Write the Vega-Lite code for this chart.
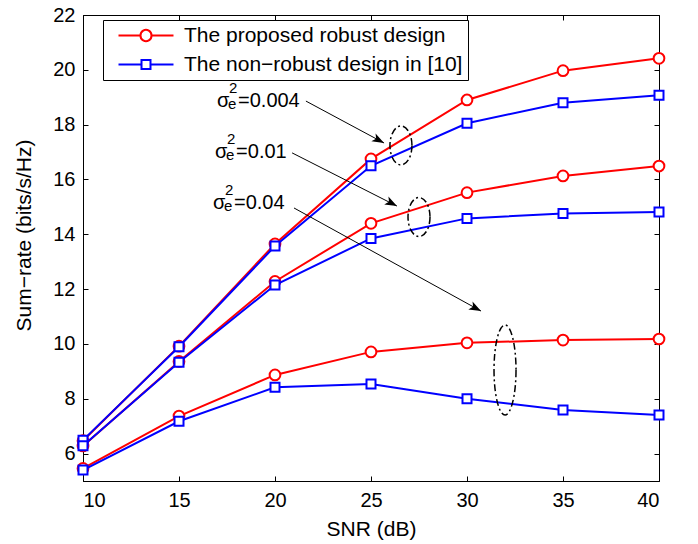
{
  "$schema": "https://vega.github.io/schema/vega-lite/v6.json",
  "width": 576,
  "height": 466,
  "autosize": {"type": "none"},
  "padding": {"left": 83, "top": 15, "right": 39, "bottom": 63},
  "background": "white",
  "config": {
    "font": "Liberation Sans",
    "view": {"stroke": "black", "strokeWidth": 1},
    "axis": {
      "grid": false,
      "domainColor": "black",
      "domainWidth": 1,
      "tickColor": "black",
      "tickWidth": 1,
      "tickSize": -5,
      "labelColor": "black",
      "labelFont": "Liberation Sans",
      "labelFontSize": 20,
      "titleColor": "black",
      "titleFont": "Liberation Sans",
      "titleFontSize": 21,
      "titleFontWeight": "normal"
    }
  },
  "datasets": {
    "curves": [
      {"snr": 10, "rate": 6.47, "design": "robust", "sigma": "0.004"},
      {"snr": 15, "rate": 9.92, "design": "robust", "sigma": "0.004"},
      {"snr": 20, "rate": 13.65, "design": "robust", "sigma": "0.004"},
      {"snr": 25, "rate": 16.75, "design": "robust", "sigma": "0.004"},
      {"snr": 30, "rate": 18.9, "design": "robust", "sigma": "0.004"},
      {"snr": 35, "rate": 19.97, "design": "robust", "sigma": "0.004"},
      {"snr": 40, "rate": 20.42, "design": "robust", "sigma": "0.004"},
      {"snr": 10, "rate": 6.49, "design": "nonrobust", "sigma": "0.004"},
      {"snr": 15, "rate": 9.9, "design": "nonrobust", "sigma": "0.004"},
      {"snr": 20, "rate": 13.57, "design": "nonrobust", "sigma": "0.004"},
      {"snr": 25, "rate": 16.5, "design": "nonrobust", "sigma": "0.004"},
      {"snr": 30, "rate": 18.05, "design": "nonrobust", "sigma": "0.004"},
      {"snr": 35, "rate": 18.8, "design": "nonrobust", "sigma": "0.004"},
      {"snr": 40, "rate": 19.07, "design": "nonrobust", "sigma": "0.004"},
      {"snr": 10, "rate": 6.28, "design": "robust", "sigma": "0.01"},
      {"snr": 15, "rate": 9.36, "design": "robust", "sigma": "0.01"},
      {"snr": 20, "rate": 12.28, "design": "robust", "sigma": "0.01"},
      {"snr": 25, "rate": 14.4, "design": "robust", "sigma": "0.01"},
      {"snr": 30, "rate": 15.52, "design": "robust", "sigma": "0.01"},
      {"snr": 35, "rate": 16.13, "design": "robust", "sigma": "0.01"},
      {"snr": 40, "rate": 16.49, "design": "robust", "sigma": "0.01"},
      {"snr": 10, "rate": 6.29, "design": "nonrobust", "sigma": "0.01"},
      {"snr": 15, "rate": 9.33, "design": "nonrobust", "sigma": "0.01"},
      {"snr": 20, "rate": 12.15, "design": "nonrobust", "sigma": "0.01"},
      {"snr": 25, "rate": 13.85, "design": "nonrobust", "sigma": "0.01"},
      {"snr": 30, "rate": 14.58, "design": "nonrobust", "sigma": "0.01"},
      {"snr": 35, "rate": 14.76, "design": "nonrobust", "sigma": "0.01"},
      {"snr": 40, "rate": 14.81, "design": "nonrobust", "sigma": "0.01"},
      {"snr": 10, "rate": 5.46, "design": "robust", "sigma": "0.04"},
      {"snr": 15, "rate": 7.37, "design": "robust", "sigma": "0.04"},
      {"snr": 20, "rate": 8.87, "design": "robust", "sigma": "0.04"},
      {"snr": 25, "rate": 9.71, "design": "robust", "sigma": "0.04"},
      {"snr": 30, "rate": 10.04, "design": "robust", "sigma": "0.04"},
      {"snr": 35, "rate": 10.14, "design": "robust", "sigma": "0.04"},
      {"snr": 40, "rate": 10.18, "design": "robust", "sigma": "0.04"},
      {"snr": 10, "rate": 5.4, "design": "nonrobust", "sigma": "0.04"},
      {"snr": 15, "rate": 7.18, "design": "nonrobust", "sigma": "0.04"},
      {"snr": 20, "rate": 8.42, "design": "nonrobust", "sigma": "0.04"},
      {"snr": 25, "rate": 8.54, "design": "nonrobust", "sigma": "0.04"},
      {"snr": 30, "rate": 8.0, "design": "nonrobust", "sigma": "0.04"},
      {"snr": 35, "rate": 7.59, "design": "nonrobust", "sigma": "0.04"},
      {"snr": 40, "rate": 7.41, "design": "nonrobust", "sigma": "0.04"}
    ],
    "labels": [
      {"snr": 16.98, "rate": 18.66, "tail": "=0.004"},
      {"snr": 16.88, "rate": 16.78, "tail": "=0.01"},
      {"snr": 16.77, "rate": 14.92, "tail": "=0.04"}
    ],
    "arrows": [
      {"snr": 21.61, "rate": 18.86, "snr2": 25.68, "rate2": 17.33},
      {"snr": 20.89, "rate": 16.97, "snr2": 26.35, "rate2": 15.03},
      {"snr": 20.99, "rate": 14.96, "snr2": 30.73, "rate2": 11.2}
    ],
    "ellipses": [
      {"snr": 26.56, "rate": 17.24, "group": "small"},
      {"snr": 27.5, "rate": 14.63, "group": "small"},
      {"snr": 31.98, "rate": 9.05, "group": "tall"}
    ]
  },
  "encoding": {
    "x": {"field": "snr", "type": "quantitative", "scale": {"domain": [10, 40], "nice": false, "zero": false}, "axis": null},
    "y": {"field": "rate", "type": "quantitative", "scale": {"domain": [5, 22], "nice": false, "zero": false}, "axis": null}
  },
  "layer": [
    {
      "data": {"name": "curves"},
      "transform": [{"filter": "false"}],
      "mark": {"type": "point", "opacity": 0},
      "encoding": {
        "x": {"field": "snr", "type": "quantitative", "scale": {"domain": [10, 40], "nice": false, "zero": false},
              "axis": {"orient": "top", "labels": false, "domain": false, "title": null, "values": [10, 15, 20, 25, 30, 35, 40]}},
        "y": {"field": "rate", "type": "quantitative", "scale": {"domain": [5, 22], "nice": false, "zero": false},
              "axis": {"orient": "right", "labels": false, "domain": false, "title": null, "values": [6, 8, 10, 12, 14, 16, 18, 20, 22]}}
      }
    },
    {
      "data": {"name": "curves"},
      "transform": [{"filter": "datum.design == 'robust'"}],
      "mark": {"type": "line", "color": "#ff0000", "strokeWidth": 2},
      "encoding": {
        "detail": {"field": "sigma"},
        "x": {"field": "snr", "type": "quantitative", "scale": {"domain": [10, 40], "nice": false, "zero": false},
              "axis": {"orient": "bottom", "title": "SNR (dB)", "values": [10, 15, 20, 25, 30, 35, 40], "labelPadding": 14, "titleY": 54, "titleBaseline": "alphabetic"}},
        "y": {"field": "rate", "type": "quantitative", "scale": {"domain": [5, 22], "nice": false, "zero": false},
              "axis": {"orient": "left", "title": "Sum−rate (bits/s/Hz)", "values": [6, 8, 10, 12, 14, 16, 18, 20, 22], "labelPadding": 13, "titleX": -59, "titleY": 220, "titleAngle": -90, "titleBaseline": "middle", "titleAlign": "center"}}
      }
    },
    {
      "data": {"name": "curves"},
      "transform": [{"filter": "datum.design == 'robust'"}],
      "mark": {"type": "point", "shape": "circle", "fill": "white", "stroke": "#ff0000", "strokeWidth": 2, "size": 115, "opacity": 1}
    },
    {
      "data": {"name": "curves"},
      "transform": [{"filter": "datum.design == 'nonrobust'"}],
      "mark": {"type": "line", "color": "#0000ff", "strokeWidth": 2},
      "encoding": {"detail": {"field": "sigma"}}
    },
    {
      "data": {"name": "curves"},
      "transform": [{"filter": "datum.design == 'nonrobust'"}],
      "mark": {"type": "point", "shape": "square", "fill": "white", "stroke": "#0000ff", "strokeWidth": 2, "size": 81, "opacity": 1}
    },
    {
      "data": {"name": "arrows"},
      "mark": {"type": "rule", "color": "black", "strokeWidth": 1},
      "encoding": {
        "x2": {"field": "snr2"},
        "y2": {"field": "rate2"}
      }
    },
    {
      "data": {"name": "arrows"},
      "mark": {"type": "point", "shape": "M0,0L-2,-0.75L-1.5,0L-2,0.75Z", "filled": true, "color": "black", "size": 144, "angle": 28, "opacity": 1},
      "encoding": {
        "x": {"field": "snr2", "type": "quantitative", "scale": {"domain": [10, 40], "nice": false, "zero": false}, "axis": null},
        "y": {"field": "rate2", "type": "quantitative", "scale": {"domain": [5, 22], "nice": false, "zero": false}, "axis": null}
      }
    },
    {
      "data": {"name": "ellipses"},
      "transform": [{"filter": "datum.group == 'small'"}],
      "mark": {"type": "point", "shape": "M1.1,0A1.1,1.95,0,1,1,-1.1,0A1.1,1.95,0,1,1,1.1,0Z", "filled": false, "stroke": "black", "strokeWidth": 1.5, "strokeDash": [7, 3, 2, 3], "size": 400, "opacity": 1}
    },
    {
      "data": {"name": "ellipses"},
      "transform": [{"filter": "datum.group == 'tall'"}],
      "mark": {"type": "point", "shape": "M1.1,0A1.1,4.5,0,1,1,-1.1,0A1.1,4.5,0,1,1,1.1,0Z", "filled": false, "stroke": "black", "strokeWidth": 1.5, "strokeDash": [7, 3, 2, 3], "size": 400, "opacity": 1}
    },
    {
      "data": {"name": "labels"},
      "mark": {"type": "text", "text": "σ", "font": "Liberation Sans", "fontSize": 20, "align": "left", "baseline": "alphabetic", "color": "black"}
    },
    {
      "data": {"name": "labels"},
      "mark": {"type": "text", "text": "2", "font": "Liberation Sans", "fontSize": 15, "align": "left", "baseline": "alphabetic", "color": "black", "dx": 12, "dy": -14}
    },
    {
      "data": {"name": "labels"},
      "mark": {"type": "text", "text": "e", "font": "Liberation Sans", "fontSize": 15, "align": "left", "baseline": "alphabetic", "color": "black", "dx": 11, "dy": 2}
    },
    {
      "data": {"name": "labels"},
      "mark": {"type": "text", "font": "Liberation Sans", "fontSize": 20, "align": "left", "baseline": "alphabetic", "color": "black", "dx": 21},
      "encoding": {"text": {"field": "tail"}}
    },
    {
      "data": {"name": "curves"},
      "transform": [{"filter": "false"}],
      "mark": {"type": "point", "filled": false, "strokeWidth": 2, "opacity": 1},
      "encoding": {
        "color": {"field": "design", "type": "nominal",
                  "scale": {"domain": ["robust", "nonrobust"], "range": ["#ff0000", "#0000ff"]},
                  "legend": {"orient": "none", "legendX": 20, "legendY": 5, "title": null, "padding": 5, "strokeColor": "black", "fillColor": "white",
                             "labelFont": "Liberation Sans", "labelFontSize": 21, "labelColor": "black", "labelOffset": 55, "labelLimit": 500, "symbolSize": 196, "symbolStrokeWidth": 2, "rowPadding": 7,
                             "labelExpr": "datum.value == 'robust' ? 'The proposed robust design' : 'The non−robust design in [10]'"}},
        "shape": {"field": "design", "type": "nominal",
                  "scale": {"domain": ["robust", "nonrobust"], "range": ["M0,0L3.143,0M4.714,0L7.857,0M4.714,0A0.786,0.786,0,1,1,3.143,0A0.786,0.786,0,1,1,4.714,0Z", "M0,0L3.286,0M4.571,0L7.857,0M3.286,-0.643L4.571,-0.643L4.571,0.643L3.286,0.643Z"]},
                  "legend": {"orient": "none", "legendX": 20, "legendY": 5, "title": null, "padding": 5, "strokeColor": "black", "fillColor": "white",
                             "labelFont": "Liberation Sans", "labelFontSize": 21, "labelColor": "black", "labelOffset": 55, "labelLimit": 500, "symbolSize": 196, "symbolStrokeWidth": 2, "rowPadding": 7,
                             "labelExpr": "datum.value == 'robust' ? 'The proposed robust design' : 'The non−robust design in [10]'"}}
      }
    }
  ],
  "resolve": {"axis": {"x": "independent", "y": "independent"}}
}
